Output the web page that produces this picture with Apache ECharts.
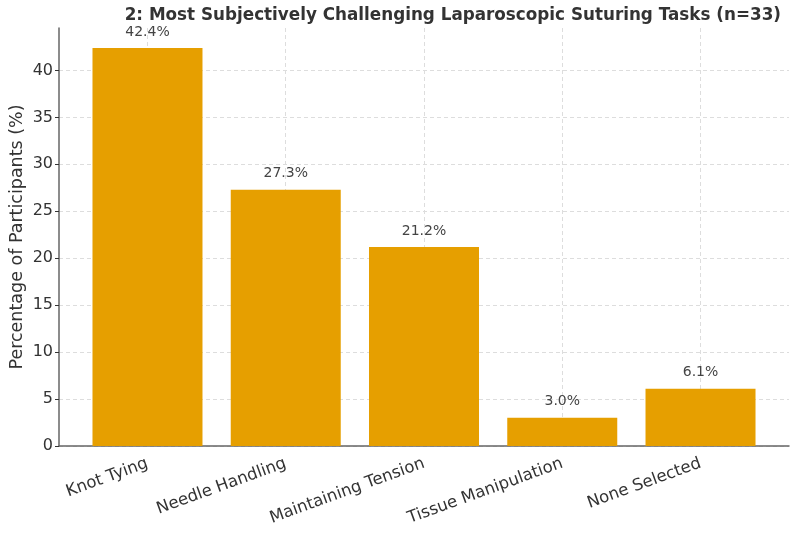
<!DOCTYPE html>
<html>
<head>
<meta charset="utf-8">
<script src="https://cdn.jsdelivr.net/npm/echarts@6/dist/echarts.min.js"></script>
<style>
  html, body { margin: 0; padding: 0; background: #fff; }
  #main { width: 800px; height: 535px; }
</style>
</head>
<body>
<div id="main"></div>
<script>
var categories = ['Knot Tying', 'Needle Handling', 'Maintaining Tension', 'Tissue Manipulation', 'None Selected'];
var percentages = [42.4, 27.3, 21.2, 3.0, 6.1];
var yTicks = [0, 5, 10, 15, 20, 25, 30, 35, 40];

var myChart = echarts.init(document.getElementById('main'));

var positions = categories.map(function (c, i) { return i; });
var barData = percentages.map(function (v, i) { return [i, v]; });

var font = 'DejaVu Sans';

option = {
    animation: false,
    title: {
        text: '2: Most Subjectively Challenging Laparoscopic Suturing Tasks (n=33)',
        right: 14,
        top: 2,
        textStyle: {
            fontFamily: font,
            fontWeight: 'bold',
            fontSize: 16.8,
            color: '#333'
        }
    },
    grid: {
        left: 59,
        right: 11,
        top: 28,
        bottom: 89,
        outerBoundsMode: 'none'
    },
    xAxis: {
        type: 'value',
        min: -0.64,
        max: 4.64,
        axisLine: { show: true, onZero: false, lineStyle: { color: '#666', width: 1.5 } },
        axisTick: {
            show: true,
            inside: true,
            length: 4,
            customValues: positions,
            lineStyle: { color: '#333' }
        },
        axisLabel: {
            customValues: positions,
            rotate: 20,
            fontFamily: font,
            fontSize: 16.5,
            color: '#333',
            margin: 17,
            formatter: function (v) { return categories[Math.round(v)]; }
        },
        splitLine: {
            show: true,
            lineStyle: { color: '#ddd', type: [4, 3], width: 1 }
        }
    },
    yAxis: {
        type: 'value',
        min: 0,
        max: 44.52,
        interval: 5,
        name: 'Percentage of Participants (%)',
        nameLocation: 'middle',
        nameGap: 33,
        nameMoveOverlap: false,
        nameTextStyle: {
            fontFamily: font,
            fontSize: 17.5,
            color: '#333'
        },
        axisLine: { show: true, onZero: false, lineStyle: { color: '#666', width: 1.5 } },
        axisTick: {
            show: true,
            length: 4,
            customValues: yTicks,
            lineStyle: { color: '#333' }
        },
        axisLabel: {
            customValues: yTicks,
            fontFamily: font,
            fontSize: 16,
            color: '#333',
            margin: 6
        },
        splitLine: {
            show: true,
            lineStyle: { color: '#ddd', type: [4, 3], width: 1 }
        }
    },
    series: [
        {
            type: 'bar',
            data: barData,
            barWidth: 110,
            itemStyle: { color: '#E69F00' },
            label: {
                show: true,
                position: 'top',
                distance: 9,
                fontFamily: font,
                fontSize: 14,
                color: '#444',
                formatter: function (p) { return p.value[1].toFixed(1) + '%'; }
            }
        }
    ]
};

myChart.setOption(option);
</script>
</body>
</html>
